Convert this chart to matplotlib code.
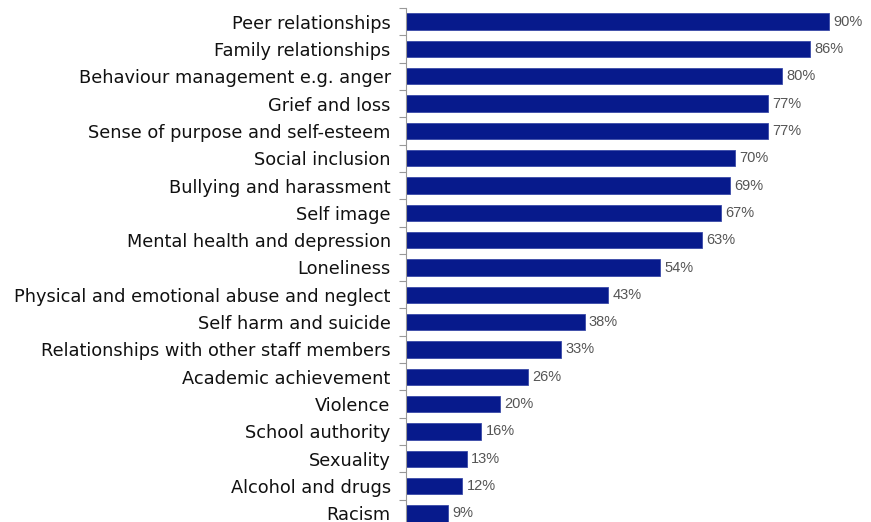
import matplotlib.pyplot as plt

categories = [
    "Peer relationships",
    "Family relationships",
    "Behaviour management e.g. anger",
    "Grief and loss",
    "Sense of purpose and self-esteem",
    "Social inclusion",
    "Bullying and harassment",
    "Self image",
    "Mental health and depression",
    "Loneliness",
    "Physical and emotional abuse and neglect",
    "Self harm and suicide",
    "Relationships with other staff members",
    "Academic achievement",
    "Violence",
    "School authority",
    "Sexuality",
    "Alcohol and drugs",
    "Racism",
]
values = [90, 86, 80, 77, 77, 70, 69, 67, 63, 54, 43, 38, 33, 26, 20, 16, 13, 12, 9]
value_labels = [f"{v}%" for v in values]

plt.rcParams['font.family'] = ['DejaVu Sans']

W, H = 871, 522
fig = plt.figure(figsize=(W / 100, H / 100), dpi=100)
ax = fig.add_axes([406 / W, -5 / H, 470 / W, 519 / H])

n = len(categories)
pos = list(range(n))
ax.barh(pos, values, height=0.6, color='#071a8c', edgecolor='#3a4aa8', linewidth=0.6)
ax.set_ylim(n - 0.5, -0.5)
ax.set_xlim(0, 100)

for y, v, lab in zip(pos, values, value_labels):
    ax.text(v + 0.9, y, lab, va='center', ha='left', fontsize=10.5, color='#555555',
            family=['Liberation Sans', 'DejaVu Sans'])

ax.set_yticks(pos)
ax.set_yticklabels(categories, fontsize=12.8, color='#111111')
ax.set_yticks([i - 0.5 for i in range(n + 1)], minor=True)
ax.tick_params(axis='y', which='major', length=0, pad=11)
ax.tick_params(axis='y', which='minor', length=5, color='#999999', width=0.8)
ax.set_xticks([])
for s in ['top', 'right', 'bottom']:
    ax.spines[s].set_visible(False)
ax.spines['left'].set_color('#999999')
ax.spines['left'].set_linewidth(0.8)

fig.savefig('out.png', dpi=100)
